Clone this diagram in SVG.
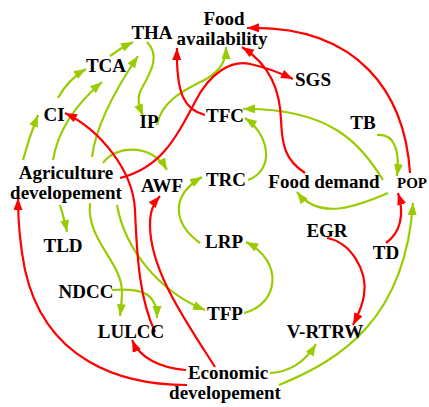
<svg xmlns="http://www.w3.org/2000/svg" width="429" height="407" viewBox="0 0 429 407">
<style>
.t text{font-family:'Liberation Serif','Times New Roman',serif;font-weight:700;font-size:19px;fill:#000;text-anchor:middle}
.t text.small{font-size:15px}
.g{fill:none;stroke:#99cc00;stroke-width:2.2;marker-end:url(#ag)}
.r{fill:none;stroke:#ff0000;stroke-width:2.2;marker-end:url(#ar)}
</style>
<defs>
<marker id="ag" markerUnits="userSpaceOnUse" markerWidth="13" markerHeight="10" refX="12" refY="4.5" orient="auto"><path d="M0,0 L12,4.5 L0,9 z" fill="#99cc00"/></marker>
<marker id="ar" markerUnits="userSpaceOnUse" markerWidth="13" markerHeight="10" refX="12" refY="4.5" orient="auto"><path d="M0,0 L12,4.5 L0,9 z" fill="#ff0000"/></marker>
</defs>
<rect width="429" height="407" fill="#fff"/>
<g id="connectors">
<path class="g" d="M23,160 C27,145 32,130 38,115"/>
<path class="g" d="M58,98 C65,85 74,76 86,69"/>
<path class="g" d="M110,56 C118,50 125,46 133,42"/>
<path class="g" d="M53,160 C58,130 75,105 102,82"/>
<path class="g" d="M92,157 C96,125 115,90 138,56"/>
<path class="g" d="M147,42 C160,55 152,70 142,88 C136,98 139,106 143,116"/>
<path class="g" d="M157,125 C162,98 190,88 208,78 C220,70 226,62 226,47"/>
<path class="g" d="M383,180 C360,143 330,108 243,109"/>
<path class="g" d="M248,180 C275,170 270,135 245,118"/>
<path class="g" d="M377,135 C395,133 400,152 397,176"/>
<path class="g" d="M388,193 C360,205 320,222 297,192"/>
<path class="g" d="M279,385 C340,360 405,320 413,203"/>
<path class="g" d="M270,373 C290,372 305,362 316,344"/>
<path class="g" d="M244,313 C278,305 285,262 246,242"/>
<path class="g" d="M200,243 C175,225 168,197 202,177"/>
<path class="g" d="M103,163 C115,145 152,143 167,170"/>
<path class="g" d="M60,205 C63,215 65,222 67,232"/>
<path class="g" d="M90,203 C86,240 122,262 122,292 C122,300 121,308 120,316"/>
<path class="g" d="M112,290 C140,288 157,292 157,318"/>
<path class="g" d="M117,205 C125,250 160,292 205,310"/>
<path class="r" d="M205,115 C185,110 176,95 177,48"/>
<path class="r" d="M120,178 C160,168 175,140 195,102 C210,72 232,60 250,64 C265,67 278,72 293,79"/>
<path class="r" d="M305,173 C285,160 282,145 281,120 C280,90 270,65 242,47"/>
<path class="r" d="M410,173 C405,95 360,25 247,28"/>
<path class="r" d="M215,367 C185,320 150,270 150,225 C150,210 154,203 160,196"/>
<path class="r" d="M155,332 C140,300 137,260 135,210 C133,170 100,130 65,113"/>
<path class="r" d="M186,370 C160,368 140,358 132,340"/>
<path class="r" d="M187,385 C120,385 45,360 25,270 C20,245 18,225 18,198"/>
<path class="r" d="M327,238 C350,242 368,270 364,295 C362,308 358,315 353,325"/>
<path class="r" d="M386,243 C400,233 405,215 398,193"/>
</g>
<g class="t">
<g id="n-food-availability"><text x="224" y="25">Food</text><text x="222" y="45">availability</text></g>
<g id="n-tha"><text x="152" y="39">THA</text></g>
<g id="n-sgs"><text x="313" y="86">SGS</text></g>
<g id="n-tca"><text x="106" y="72">TCA</text></g>
<g id="n-ci"><text x="54" y="121">CI</text></g>
<g id="n-ip"><text x="149" y="128">IP</text></g>
<g id="n-tfc"><text x="225" y="122">TFC</text></g>
<g id="n-tb"><text x="363" y="129">TB</text></g>
<g id="n-agri"><text x="66" y="179">Agriculture</text><text x="66" y="199">developement</text></g>
<g id="n-awf"><text x="162" y="192">AWF</text></g>
<g id="n-trc"><text x="226" y="186">TRC</text></g>
<g id="n-food-demand"><text x="324" y="188">Food demand</text></g>
<g id="n-pop"><text class="small" x="412" y="188">POP</text></g>
<g id="n-tld"><text x="63" y="252">TLD</text></g>
<g id="n-lrp"><text x="224" y="248">LRP</text></g>
<g id="n-egr"><text x="327" y="237">EGR</text></g>
<g id="n-td"><text x="386" y="259">TD</text></g>
<g id="n-ndcc"><text x="86" y="298">NDCC</text></g>
<g id="n-lulcc"><text x="131" y="338">LULCC</text></g>
<g id="n-tfp"><text x="225" y="320">TFP</text></g>
<g id="n-vrtrw"><text x="325" y="338">V-RTRW</text></g>
<g id="n-econ"><text x="228" y="379">Economic</text><text x="225" y="399">developement</text></g>
</g>
</svg>
